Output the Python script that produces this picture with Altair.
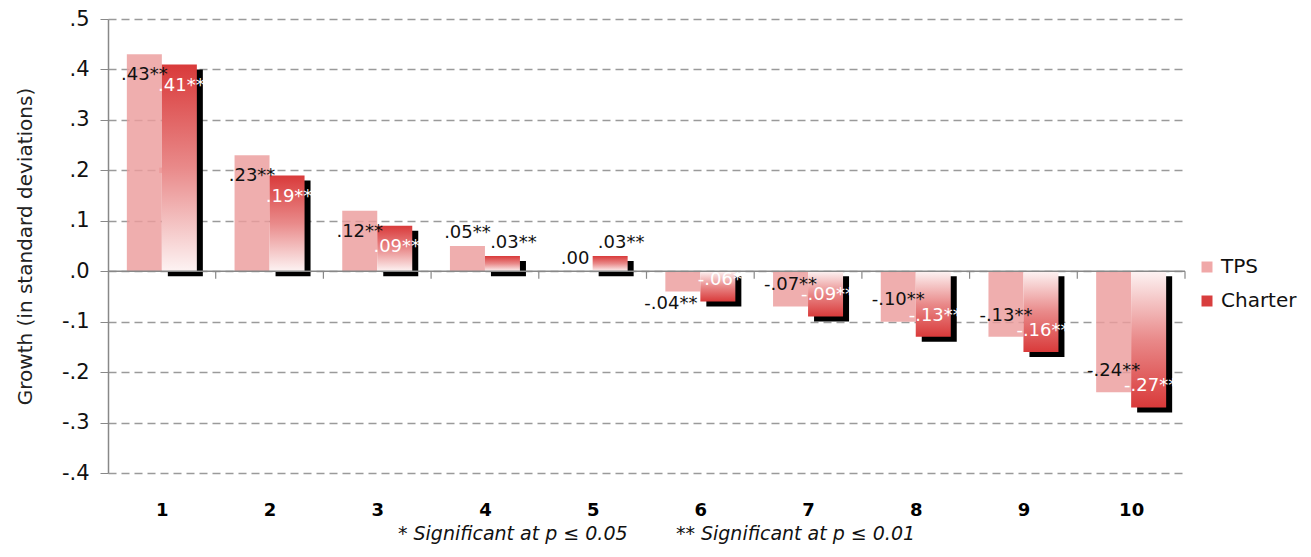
import altair as alt
import pandas as pd

# ---- data ----
categories = [1, 2, 3, 4, 5, 6, 7, 8, 9, 10]
tps = [0.43, 0.23, 0.12, 0.05, 0.00, -0.04, -0.07, -0.10, -0.13, -0.24]
charter = [0.41, 0.19, 0.09, 0.03, 0.03, -0.06, -0.09, -0.13, -0.16, -0.27]
tps_labels = [".43**", ".23**", ".12**", ".05**", ".00", "-.04**", "-.07**", "-.10**", "-.13**", "-.24**"]
charter_labels = [".41**", ".19**", ".09**", ".03**", ".03**", "-.06*", "-.09**", "-.13**", "-.16**", "-.27**"]
series_names = ["TPS", "Charter"]
y_ticks = [-0.4, -0.3, -0.2, -0.1, 0.0, 0.1, 0.2, 0.3, 0.4, 0.5]
footnote = ("* Significant at p \u2264 0.05" + "\u00a0" * 8 + "** Significant at p \u2264 0.01")

HALF = 0.325  # bar width in category units


def label_pos(v):
    s = 1 if v >= 0 else -1
    if abs(v) >= 0.06:
        return v - s * 0.042, True
    return v + s * 0.025, False


rows = []
for c, t, ch, tl, cl in zip(categories, tps, charter, tps_labels, charter_labels):
    ly, inside = label_pos(t)
    rows.append(dict(cat=c, series="TPS", value=t, lo=c - HALF, hi=c, mid=c - HALF / 2,
                     label=tl, ly=ly, inside=inside))
    ly, inside = label_pos(ch)
    rows.append(dict(cat=c, series="Charter", value=ch, lo=c, hi=c + HALF, mid=c + HALF / 2,
                     label=cl, ly=ly, inside=inside))
df = pd.DataFrame(rows)
df["zero"] = 0.0

xscale = alt.Scale(domain=[0.5, 10.5], nice=False, zero=False)
yscale = alt.Scale(domain=[-0.4, 0.5], nice=False)

FONT = "DejaVu Sans"

base = alt.Chart(df)

# hidden squares that only feed the legend (covered by the opaque Charter bar 1)
legend_layer = base.transform_filter(alt.datum.cat == 1).mark_square(size=30, opacity=1).encode(
    x=alt.X("hi:Q", scale=xscale, title=None,
            axis=alt.Axis(values=categories, format="d", labelFontSize=18, labelFontWeight="bold",
                          labelFont=FONT, labelColor="#000", labelPadding=28, ticks=False,
                          domain=False, grid=False)),
    y=alt.datum(0.2, scale=yscale),
    color=alt.Color("series:N", scale=alt.Scale(domain=series_names, range=["#f0a8a8", "#d83e3e"]),
                    legend=alt.Legend(title=None, orient="none", legendX=1089, legendY=238,
                                      symbolType="square", symbolSize=121, symbolStrokeWidth=0,
                                      labelFontSize=20, labelFont=FONT, labelColor="#111",
                                      rowPadding=14, padding=0, labelOffset=4)),
)

charter_df = base.transform_filter(alt.datum.series == "Charter")

shadow = charter_df.mark_bar(color="#000000", xOffset=6, x2Offset=6, yOffset=5, y2Offset=5).encode(
    x=alt.X("lo:Q", scale=xscale), x2="hi:Q",
    y=alt.Y("value:Q", scale=yscale), y2="zero:Q",
)

tps_bars = base.transform_filter(alt.datum.series == "TPS").mark_bar(
    color="#ec9c9c", opacity=0.82).encode(
    x=alt.X("lo:Q", scale=xscale), x2="hi:Q",
    y=alt.Y("value:Q", scale=yscale), y2="zero:Q",
)

grad_pos = alt.LinearGradient(
    gradient="linear", x1=0, x2=0, y1=0, y2=1,
    stops=[alt.GradientStop(color="#d93a3a", offset=0),
           alt.GradientStop(color="#e98a8a", offset=0.5),
           alt.GradientStop(color="#fdf3f3", offset=1)])
grad_neg = alt.LinearGradient(
    gradient="linear", x1=0, x2=0, y1=0, y2=1,
    stops=[alt.GradientStop(color="#fdf3f3", offset=0),
           alt.GradientStop(color="#e98a8a", offset=0.5),
           alt.GradientStop(color="#d93a3a", offset=1)])

charter_pos = charter_df.transform_filter(alt.datum.value >= 0).mark_bar(color=grad_pos).encode(
    x=alt.X("lo:Q", scale=xscale), x2="hi:Q",
    y=alt.Y("value:Q", scale=yscale), y2="zero:Q",
)
charter_neg = charter_df.transform_filter(alt.datum.value < 0).mark_bar(color=grad_neg).encode(
    x=alt.X("lo:Q", scale=xscale), x2="hi:Q",
    y=alt.Y("value:Q", scale=yscale), y2="zero:Q",
)

zero_line = alt.Chart(pd.DataFrame({"y": [0.0]})).mark_rule(color="#888888", strokeWidth=1.5).encode(
    y=alt.Y("y:Q", scale=yscale),
    x=alt.value(0), x2=alt.value(1077),
)

bounds = pd.DataFrame({"b": [c + 0.5 for c in categories], "y0": 0.0, "y1": -0.015})
zero_ticks = alt.Chart(bounds).mark_rule(color="#888888", strokeWidth=1.2).encode(
    x=alt.X("b:Q", scale=xscale), y=alt.Y("y0:Q", scale=yscale), y2="y1:Q",
)

tps_text_df = base.transform_filter(alt.datum.series == "TPS")
tps_text_in = tps_text_df.transform_filter(
    (alt.datum.value >= 0) | alt.datum.inside).mark_text(
    fontSize=18, font=FONT, color="#111111", baseline="middle", align="center", dx=0).encode(
    x=alt.X("mid:Q", scale=xscale), y=alt.Y("ly:Q", scale=yscale), text="label:N",
)
tps_text_out = tps_text_df.transform_filter(
    (alt.datum.value < 0) & (~alt.datum.inside)).mark_text(
    fontSize=18, font=FONT, color="#111111", baseline="middle", align="center", dx=-12).encode(
    x=alt.X("mid:Q", scale=xscale), y=alt.Y("ly:Q", scale=yscale), text="label:N",
)
charter_text_in = charter_df.transform_filter(alt.datum.inside).mark_text(
    fontSize=18, font=FONT, color="#ffffff", baseline="middle", align="center", dx=2).encode(
    x=alt.X("mid:Q", scale=xscale), y=alt.Y("ly:Q", scale=yscale), text="label:N",
)
charter_text_out = charter_df.transform_filter(~alt.datum.inside).mark_text(
    fontSize=18, font=FONT, color="#111111", baseline="middle", align="center", dx=11).encode(
    x=alt.X("mid:Q", scale=xscale), y=alt.Y("ly:Q", scale=yscale), text="label:N",
)

yaxis_layer = alt.Chart(pd.DataFrame({"v": [0.0]})).mark_rule(opacity=0).encode(
    y=alt.Y("v:Q", scale=yscale, title="Growth (in standard deviations)",
            axis=alt.Axis(values=y_ticks,
                          labelExpr="(datum.value < -0.001 ? '-' : '') + replace(format(abs(datum.value), '.1f'), '0.', '.')",
                          labelFontSize=21, labelFont=FONT, labelColor="#111", labelPadding=11,
                          tickSize=8, tickColor="#888", domainColor="#888", domainWidth=1.5,
                          gridColor="#9a9a9a", gridDash=[8, 5], gridWidth=1.6,
                          titleFontSize=20, titleFont=FONT, titleFontWeight="normal",
                          titleColor="#222", titlePadding=26)),
)

chart = alt.layer(
    yaxis_layer, legend_layer, shadow, tps_bars, charter_pos, charter_neg,
    zero_line, zero_ticks, tps_text_in, tps_text_out, charter_text_in, charter_text_out,
).properties(
    width=1077, height=454,
    title=alt.TitleParams(text=footnote, orient="bottom", anchor="middle", fontSize=19,
                          font=FONT, fontStyle="italic", fontWeight="normal", color="#111",
                          offset=6, dx=10),
    padding={"left": 100, "top": 11, "right": 118, "bottom": 76},
    autosize=alt.AutoSizeParams(type="none"),
).configure_view(stroke=None).configure_axisX(grid=False)

chart.save("out.html", embed_options={"renderer": "svg", "actions": False})
